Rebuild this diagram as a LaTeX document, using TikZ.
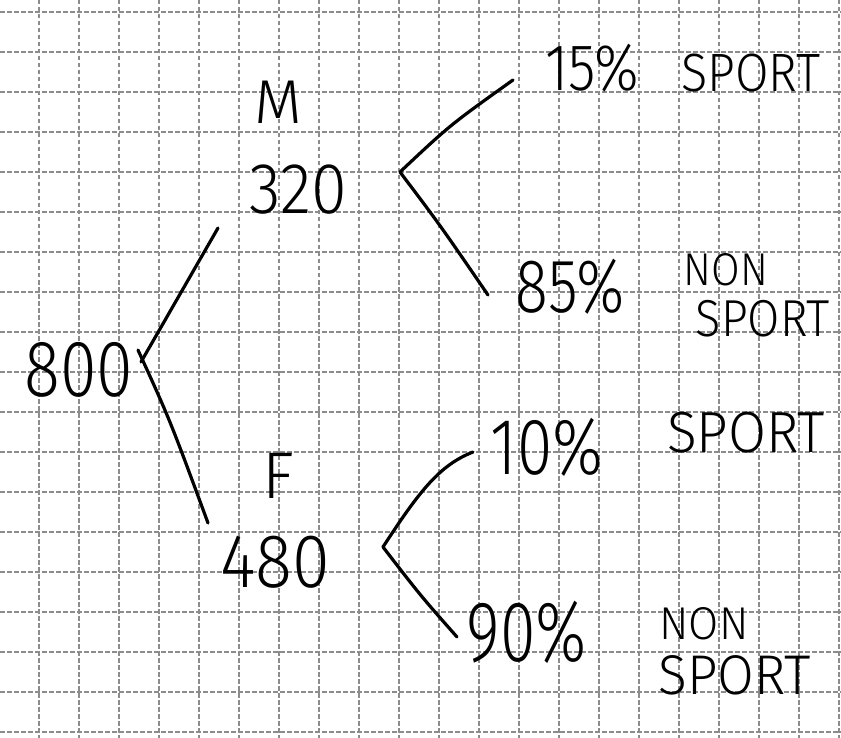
\documentclass[tikz,border=0pt]{standalone}
\usepackage{fontspec}
\setmainfont{Fira Sans}[UprightFont={* Light}]
\begin{document}
\begin{tikzpicture}[x=1pt,y=-1pt,
  gridline/.style={draw=black!45,line width=1.4pt,dash pattern=on 4.5pt off 2.5pt},
  branch/.style={draw=black,line width=3.2pt,line cap=round,line join=round},
  lbl/.style={inner sep=0pt,text=black},
  big/.style={lbl,font=\fontsize{#1}{#1}\selectfont}]
\useasboundingbox (0,0) rectangle (841,738);
\fill[white] (0,0) rectangle (841,738);
\foreach \i in {0,...,20} {\draw[gridline] (39+40*\i,0) -- (39+40*\i,738);}
\foreach \j in {0,...,18} {\draw[gridline] (0,12+40*\j) -- (841,12+40*\j);}
% nodes
\node[big=80,xscale=0.83] (n800) at (79,370) {800};
\node[big=62] (nM) at (278,102) {M};
\node[big=72,xscale=0.9] (n320) at (298,190) {320};
\node[big=66] (nF) at (278,476) {F};
\node[big=76,xscale=0.9] (n480) at (275,562) {480};
\node[big=66,xscale=0.85] (p15) at (592,68) {15\%};
\node[big=54,xscale=0.9] (s15) at (751,73) {SPORT};
\node[big=76,xscale=0.8] (p85) at (570,287) {85\%};
\node[big=46,xscale=0.9] (nn85) at (726,270) {NON};
\node[big=52,xscale=0.9] (s85) at (763,319) {SPORT};
\node[big=80,xscale=0.8] (p10) at (547,447) {10\%};
\node[big=58,xscale=0.95] (s10) at (746,433) {SPORT};
\node[big=86,xscale=0.75] (p90) at (527,632) {90\%};
\node[big=46,xscale=0.95] (nn90) at (704,624) {NON};
\node[big=56,xscale=0.95] (s90) at (735,675) {SPORT};
% junctions and branch ends
\coordinate (r0a) at (141,362);
\coordinate (r0b) at (138,350);
\coordinate (mIn) at (218,228);
\coordinate (fIn) at (208,523);
\coordinate (fM) at (400,172);
\coordinate (e15) at (513,80);
\coordinate (e85) at (488,295);
\coordinate (fF) at (383,547);
\coordinate (e10) at (473,452);
\coordinate (e90) at (457,637);
% connectors
\draw[branch] (r0a) -- (mIn);
\draw[branch] (r0b) .. controls (170,420) .. (fIn);
\draw[branch] (fM) .. controls (450,125) .. (e15);
\draw[branch] (fM) .. controls (440,225) .. (e85);
\draw[branch] (fF) .. controls (420,490) and (440,465) .. (e10);
\draw[branch] (fF) .. controls (420,595) .. (e90);
\end{tikzpicture}
\end{document}
